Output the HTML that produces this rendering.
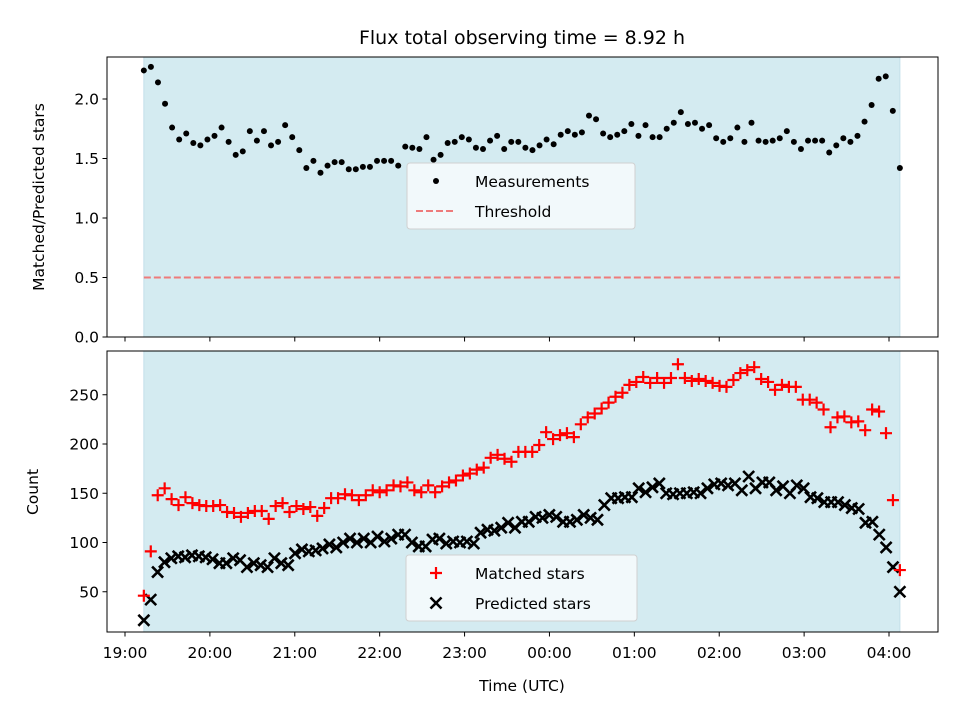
<!DOCTYPE html>
<html><head><meta charset="utf-8"><style>
body{margin:0;background:#fff}
svg text{font-family:"DejaVu Sans","Liberation Sans",sans-serif;fill:#000}
</style></head><body>
<svg id="c" width="960" height="720" xmlns="http://www.w3.org/2000/svg"></svg>
<script>
const ratioValues=[2.24,2.27,2.14,1.96,1.76,1.66,1.71,1.63,1.61,1.66,1.69,1.76,1.64,1.53,1.56,1.73,1.65,1.73,1.61,1.64,1.78,1.68,1.57,1.42,1.48,1.38,1.44,1.47,1.47,1.41,1.41,1.43,1.43,1.48,1.48,1.48,1.44,1.60,1.59,1.58,1.68,1.49,1.53,1.63,1.64,1.68,1.66,1.59,1.58,1.65,1.69,1.58,1.64,1.64,1.59,1.57,1.61,1.66,1.62,1.70,1.73,1.70,1.72,1.86,1.83,1.71,1.68,1.70,1.73,1.79,1.69,1.78,1.68,1.68,1.75,1.80,1.89,1.79,1.80,1.75,1.78,1.67,1.64,1.67,1.76,1.64,1.80,1.65,1.64,1.65,1.67,1.73,1.64,1.58,1.65,1.65,1.65,1.55,1.61,1.67,1.64,1.69,1.81,1.95,2.17,2.19,1.90,1.42];
const matchedValues=[46,91,148,155,144,138,146,140,138,137,137,138,131,130,126,130,132,132,124,137,140,131,137,134,136,127,135,145,145,149,148,143,148,153,151,153,158,157,161,153,151,158,151,157,161,163,168,170,174,176,186,189,185,182,192,192,192,199,212,205,209,211,207,220,227,231,236,242,248,252,260,263,268,262,267,262,267,281,267,264,266,264,262,259,258,265,272,275,278,266,263,255,260,258,258,245,245,242,235,217,227,228,222,223,214,235,233,211,143,72];
const predictedValues=[21,42,70,80,84,86,85,87,86,85,83,79,79,84,82,75,79,77,75,84,79,77,89,93,91,92,94,98,95,100,104,100,104,100,106,101,104,108,108,100,96,96,103,104,99,101,100,101,99,110,113,112,115,120,115,121,121,126,125,128,126,121,121,123,128,125,123,138,145,145,146,146,155,151,156,160,150,149,150,150,151,150,155,159,160,158,160,153,167,155,161,161,153,157,150,158,155,146,145,141,141,141,138,135,134,120,121,108,95,75,50];
const xTickLabels=["19:00","20:00","21:00","22:00","23:00","00:00","01:00","02:00","03:00","04:00"];
const xTickHours=[19,20,21,22,23,24,25,26,27,28];
const topYTicks=[0.0,0.5,1.0,1.5,2.0];
const botYTicks=[50,100,150,200,250];
const threshold=0.5;
const tStart=19.222, tEnd=28.128;

const NS="http://www.w3.org/2000/svg";
const svg=document.getElementById('c');
function mk(tag,attrs,parent){const e=document.createElementNS(NS,tag);for(const k in attrs)e.setAttribute(k,attrs[k]);(parent||svg).appendChild(e);return e;}
const L=107,R=938;
const X=h=>125+(h-19)*84.89;
const Y1=v=>337-v*119;
const Y2=v=>641-v*0.985;
const P1={t:57,b:337}, P2={t:351,b:632};
const tAt=(i,n)=>tStart+(tEnd-tStart)*i/(n-1);
const FS=15.5;

[P1,P2].forEach((p,k)=>{
  const s=mk('rect',{x:X(tStart),y:p.t,width:X(tEnd)-X(tStart),height:p.b-p.t,fill:'#d4ebf1',stroke:'#c4e0ea','stroke-width':1});
  
  
});
const th=mk('line',{x1:X(tStart),x2:X(tEnd),y1:Y1(threshold),y2:Y1(threshold),stroke:'#ee7b7b','stroke-width':2,'stroke-dasharray':'7,3'});


const gm=mk('g',{});


ratioValues.forEach((v,i)=>{const c=mk('circle',{cx:X(tAt(i,ratioValues.length)),cy:Y1(v),r:3,fill:'#000'},gm);

});
const gp=mk('g',{stroke:'#000','stroke-width':2.6});


predictedValues.forEach((v,i)=>{const x=X(tAt(i,predictedValues.length)),y=Y2(v),s=5.5;
const p=mk('path',{d:`M${x-s},${y-s}L${x+s},${y+s}M${x-s},${y+s}L${x+s},${y-s}`},gp);

});
const gr=mk('g',{stroke:'#ff0000','stroke-width':2.2});


matchedValues.forEach((v,i)=>{const x=X(tAt(i,matchedValues.length)),y=Y2(v),s=6;
const p=mk('path',{d:`M${x-s},${y}L${x+s},${y}M${x},${y-s}L${x},${y+s}`},gr);

});
[P1,P2].forEach((p,k)=>{const f=mk('rect',{x:L,y:p.t,width:R-L,height:p.b-p.t,fill:'none',stroke:'#000','stroke-width':1});

});
xTickHours.forEach((h,i)=>{const x=X(h);
mk('line',{x1:x,x2:x,y1:P1.b,y2:P1.b+4.5,stroke:'#000'});
mk('line',{x1:x,x2:x,y1:P2.b,y2:P2.b+4.5,stroke:'#000'});
const t=mk('text',{x:x,y:P2.b+26,'text-anchor':'middle','font-size':FS});t.textContent=xTickLabels[i];

});
topYTicks.forEach(v=>{const y=Y1(v);mk('line',{x1:L-4.5,x2:L,y1:y,y2:y,stroke:'#000'});
const t=mk('text',{x:L-8,y:y+5.5,'text-anchor':'end','font-size':FS});t.textContent=v.toFixed(1);

});
botYTicks.forEach(v=>{const y=Y2(v);mk('line',{x1:L-4.5,x2:L,y1:y,y2:y,stroke:'#000'});
const t=mk('text',{x:L-8,y:y+5.5,'text-anchor':'end','font-size':FS});t.textContent=v;

});
function txt(s,a,name){const t=mk('text',a);t.textContent=s;return t;}
txt('Flux total observing time = 8.92 h',{x:522,y:44,'text-anchor':'middle','font-size':19},'chart-title');
txt('Time (UTC)',{x:522,y:691,'text-anchor':'middle','font-size':FS},'x-axis-title');
txt('Matched/Predicted stars',{x:0,y:0,transform:`translate(44,197) rotate(-90)`,'text-anchor':'middle','font-size':FS},'top-y-axis-title');
txt('Count',{x:0,y:0,transform:`translate(38,492) rotate(-90)`,'text-anchor':'middle','font-size':FS},'bottom-y-axis-title');
function legend(x,y,w,h,name){const g=mk('g',{});
mk('rect',{x:x,y:y,width:w,height:h,rx:3,fill:'#f7fbfd','fill-opacity':0.85,stroke:'#d0d0d0'},g);return g;}
const lg1=legend(407,163,228,66,'top-legend');
mk('circle',{cx:436,cy:181,r:3,fill:'#000'},lg1);
txt('Measurements',{x:475,y:187,'font-size':FS},'legend-measurements');
mk('line',{x1:416,x2:456,y1:211,y2:211,stroke:'#ee7b7b','stroke-width':2,'stroke-dasharray':'7,3'},lg1);
txt('Threshold',{x:475,y:217,'font-size':FS},'legend-threshold');
const lg2=legend(406,555,231,66,'bottom-legend');
mk('path',{d:'M430,573L442,573M436,567L436,579',stroke:'#f00','stroke-width':2.2},lg2);
txt('Matched stars',{x:475,y:579,'font-size':FS},'legend-matched');
mk('path',{d:'M430.5,597.5L441.5,608.5M430.5,608.5L441.5,597.5',stroke:'#000','stroke-width':2.6},lg2);
txt('Predicted stars',{x:475,y:609,'font-size':FS},'legend-predicted');
</script>
</body></html>
